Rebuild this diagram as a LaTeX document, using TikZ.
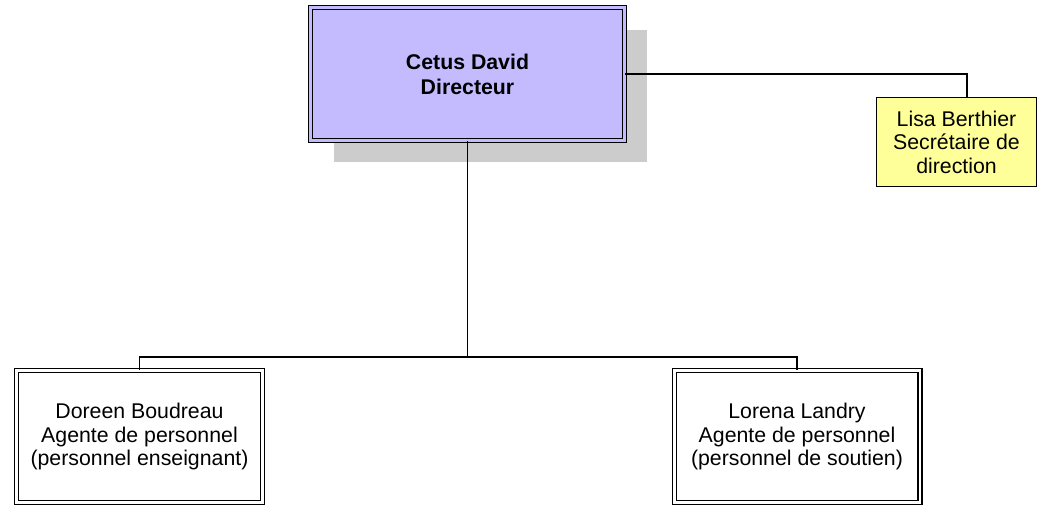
\documentclass[tikz,border=0pt]{standalone}
\usepackage{fontspec}
\setmainfont{Liberation Sans}
\usetikzlibrary{positioning, shadows, calc}

\definecolor{dirfill}{RGB}{196,187,255}
\definecolor{secfill}{RGB}{255,255,153}
\definecolor{shadowgray}{RGB}{204,204,204}

\begin{document}
\begin{tikzpicture}[x=1pt, y=-1pt,
	every node/.style={inner sep=0pt, align=center, font=\fontsize{21.3}{23.5}\selectfont},
	link/.style={line width=1.5pt},
	chief/.style={draw, line width=1.4pt, double=dirfill, double distance=2.6pt, fill=dirfill,
		minimum width=313.6pt, minimum height=132.6pt,
		general shadow={fill=shadowgray, shadow xshift=23pt, shadow yshift=-22pt},
		font=\bfseries\fontsize{21.3}{25}\selectfont},
	agent/.style={draw, line width=1.4pt, double=white, double distance=2.6pt, fill=white,
		minimum width=245.6pt, minimum height=131.6pt},
	assistant/.style={draw, line width=1.4pt, fill=secfill,
		minimum width=159.8pt, minimum height=88.8pt}]
	\useasboundingbox (0,0) rectangle (1041,506);
	% boxes
	\node[chief] (dir) at (467.5,74) {Cetus David\\Directeur};
	\node[assistant] (lisa) at (956.5,142) {Lisa Berthier\\Secrétaire de\\direction};
	\node[agent] (doreen) at (139.5,436.5) {Doreen Boudreau\\Agente de personnel\\(personnel enseignant)};
	\node[agent] (lorena) at (797,436.5) {Lorena Landry\\Agente de personnel\\(personnel de soutien)};
	% connectors
	\coordinate (lisatop) at ([xshift=10.5pt]lisa.north);
	\coordinate (split) at (467.5,357);
	\draw[link] (dir.east) -| (lisatop);
	\draw[link] (dir.south) -- (split) -| (doreen.north);
	\draw[link] (split) -| (lorena.north);
\end{tikzpicture}
\end{document}
